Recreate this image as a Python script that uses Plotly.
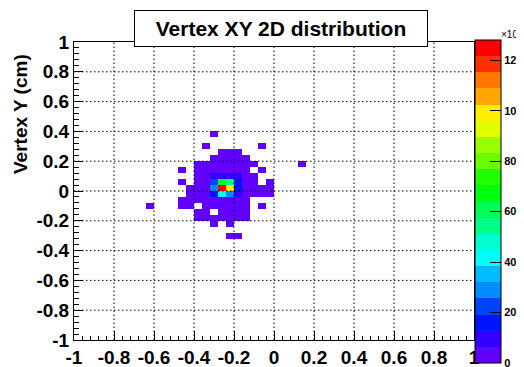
import numpy as np
import plotly.graph_objects as go

# ---------------- data (bin centres, counts in units of 10^3) ----------------
bin_x = [
    -0.30,
    -0.34, -0.06,
    -0.26, -0.22, -0.18,
    -0.30, -0.26, -0.22, -0.18, -0.14,
    -0.38, -0.34, -0.30, -0.26, -0.22, -0.18, -0.14, -0.10, 0.14,
    -0.46, -0.38, -0.34, -0.30, -0.26, -0.22, -0.18, -0.14, -0.06,
    -0.38, -0.34, -0.30, -0.26, -0.22, -0.18, -0.14, -0.10,
    -0.46, -0.38, -0.34, -0.30, -0.26, -0.22, -0.18, -0.14, -0.10, -0.02,
    -0.42, -0.38, -0.34, -0.30, -0.26, -0.22, -0.18, -0.14, -0.10, -0.06, -0.02,
    -0.42, -0.38, -0.34, -0.30, -0.26, -0.22, -0.18, -0.14, -0.10, -0.06, -0.02,
    -0.46, -0.42, -0.38, -0.34, -0.30, -0.26, -0.22, -0.18, -0.14,
    -0.62, -0.46, -0.42, -0.34, -0.30, -0.26, -0.22, -0.18, -0.14, -0.06,
    -0.38, -0.34, -0.26, -0.22, -0.18, -0.14,
    -0.38, -0.34, -0.30, -0.26, -0.22, -0.18, -0.14,
    -0.30, -0.22,
    -0.22, -0.18,
]
bin_y = (
    [0.38] * 1 + [0.30] * 2 + [0.26] * 3 + [0.22] * 5 + [0.18] * 9 + [0.14] * 9
    + [0.10] * 8 + [0.06] * 10 + [0.02] * 11 + [-0.02] * 11 + [-0.06] * 9
    + [-0.10] * 10 + [-0.14] * 6 + [-0.18] * 7 + [-0.22] * 2 + [-0.30] * 2
)
counts = [
    1,
    1, 1,
    2, 2, 1,
    1, 2, 3, 2, 1,
    1, 2, 3, 4, 4, 3, 2, 1, 1,
    1, 2, 3, 4, 5, 5, 4, 2, 1,
    2, 4, 8, 11, 10, 7, 3, 1,
    1, 3, 5, 22, 68, 55, 16, 4, 2, 1,
    1, 3, 6, 29, 128, 99, 15, 5, 2, 1, 1,
    1, 2, 5, 14, 42, 30, 9, 4, 2, 1, 1,
    1, 1, 2, 3, 5, 6, 5, 4, 2,
    1, 1, 1, 2, 3, 4, 3, 2, 1, 1,
    1, 2, 2, 3, 2, 1,
    1, 1, 2, 2, 2, 1, 1,
    1, 1,
    1, 1,
]
axis_ticks = [-1, -0.8, -0.6, -0.4, -0.2, 0, 0.2, 0.4, 0.6, 0.8, 1]
axis_labels = ["-1", "-0.8", "-0.6", "-0.4", "-0.2", "0", "0.2", "0.4", "0.6", "0.8", "1"]
z_ticks = [0, 20, 40, 60, 80, 100, 120]
z_max = 128
n_bins = 50

# ---------------- histogram grid ----------------
edges = np.linspace(-1, 1, n_bins + 1)
centres = 0.5 * (edges[:-1] + edges[1:])
z = np.full((n_bins, n_bins), np.nan)
for xv, yv, cv in zip(bin_x, bin_y, counts):
    ix = int(np.floor((xv + 1) / 2 * n_bins))
    iy = int(np.floor((yv + 1) / 2 * n_bins))
    z[iy, ix] = cv

# ROOT "pretty" palette, 20 contour levels
palette = [
    "#6200ff", "#3300ff", "#0014ff", "#0044ff", "#008bff", "#00bbff", "#00fffc",
    "#00ffcc", "#00ff85", "#00ff55", "#00ff0e", "#22ff00", "#69ff00", "#99ff00",
    "#e0ff00", "#ffee00", "#ffa700", "#ff7700", "#ff3000", "#ff0000",
]
nlev = len(palette)
colorscale = []
for k, c in enumerate(palette):
    colorscale.append([k / nlev, c])
    colorscale.append([(k + 1) / nlev, c])

FONT = "Liberation Sans, Arial, Helvetica, sans-serif"
plot_w = 400.0
plot_h = 298.0

fig = go.Figure()
fig.add_trace(go.Heatmap(
    x=centres, y=centres, z=z, zmin=0, zmax=z_max,
    colorscale=colorscale, hoverinfo="skip",
    colorbar=dict(
        thickness=26, thicknessmode="pixels",
        len=323 / plot_h, lenmode="fraction",
        x=1.0025, xanchor="left", xpad=0,
        y=-23 / plot_h, yanchor="bottom", ypad=0,
        outlinewidth=1, outlinecolor="black",
        ticks="inside", ticklen=11, tickcolor="black", tickwidth=1,
        tickvals=z_ticks, ticktext=[str(v) for v in z_ticks],
        ticklabeloverflow="allow",
        tickfont=dict(family=FONT, size=11, color="black", weight="bold"),
    ),
))

axis_common = dict(
    range=[-1, 1], showline=True, linecolor="black", linewidth=1, mirror=True,
    ticks="inside", ticklen=9, tickwidth=1, tickcolor="black",
    tickvals=axis_ticks, ticktext=axis_labels, tickangle=0,
    tickfont=dict(family=FONT, size=19, color="black", weight="bold"),
    showgrid=False, zeroline=False, fixedrange=True, automargin=False,
    minor=dict(ticks="inside", ticklen=4.5, tickcolor="black", dtick=0.04, tick0=-1, showgrid=False),
)
fig.update_xaxes(**axis_common)
fig.update_yaxes(**axis_common)

# dotted grid drawn over the histogram, like ROOT
shapes = []
for v in axis_ticks[1:-1]:
    shapes.append(dict(type="line", xref="x", yref="paper", x0=v, x1=v, y0=0, y1=1,
                       line=dict(color="black", width=1, dash="1.5px,2.5px"), layer="above"))
    shapes.append(dict(type="line", xref="paper", yref="y", x0=0, x1=1, y0=v, y1=v,
                       line=dict(color="black", width=1, dash="1.5px,2.5px"), layer="above"))

annotations = [
    dict(text="Vertex XY 2D distribution", xref="paper", yref="paper",
         x=(281 - 74) / plot_w, y=(340 - 28.5) / plot_h, xanchor="center", yanchor="middle",
         showarrow=False, bgcolor="white", bordercolor="black", borderwidth=1,
         width=290, height=33, borderpad=1,
         font=dict(family=FONT, size=21, color="black", weight="bold")),
    dict(text="Vertex Y (cm)", xref="paper", yref="paper", textangle=-90,
         x=(20 - 74) / plot_w, y=(340 - 114) / plot_h, xanchor="center", yanchor="middle",
         showarrow=False, font=dict(family=FONT, size=19, color="black", weight="bold")),
    dict(text="×10<sup>3</sup>", xref="paper", yref="paper",
         x=(499 - 74) / plot_w, y=(340 - 34) / plot_h, xanchor="left", yanchor="middle",
         showarrow=False, font=dict(family=FONT, size=10, color="black")),
]

# the page body adds an 8px margin, so the figure is 8px smaller than the window
fig.update_layout(
    width=516, height=359,
    margin=dict(l=66, r=50, t=34, b=27, pad=0, autoexpand=False),
    paper_bgcolor="white", plot_bgcolor="white",
    shapes=shapes, annotations=annotations, showlegend=False,
)
fig.write_html("out.html")
